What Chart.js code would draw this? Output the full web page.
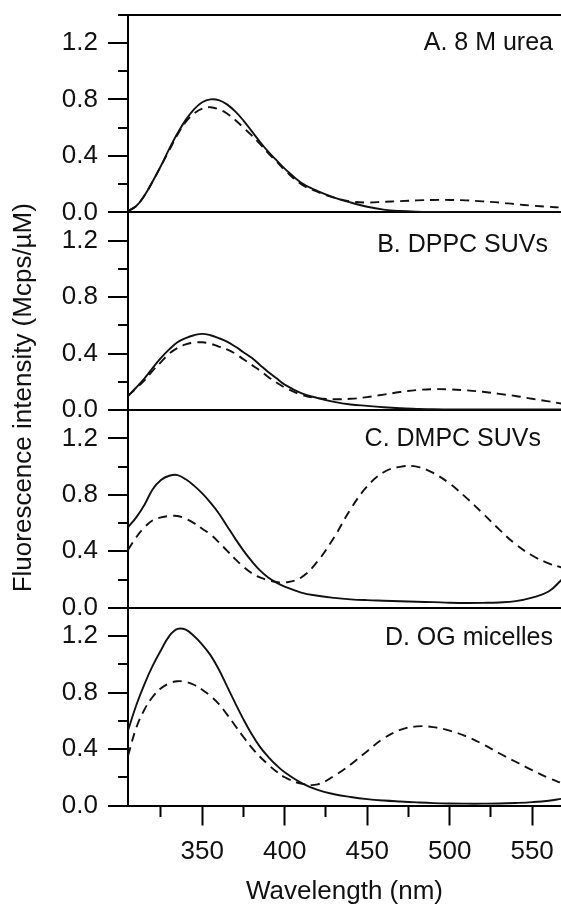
<!DOCTYPE html>
<html>
<head>
<meta charset="utf-8">
<script src="https://cdn.jsdelivr.net/npm/chart.js@4.4.1/dist/chart.umd.min.js"></script>
<style>
html,body{margin:0;padding:0;background:#fff;}
#wrap{width:561px;height:907px;position:relative;}
canvas{display:block;}
</style>
</head>
<body>
<div id="wrap"><canvas id="c" width="561" height="907"></canvas></div>
<script>
// ---- data ----
const wavelengths = [305,310,315,320,325,330,335,340,345,350,355,360,365,370,375,380,385,390,395,400,
                     410,420,430,440,450,460,470,480,490,500,510,520,530,540,550,560,568];

const ureaSolid  = [0.01,0.045,0.12,0.22,0.33,0.45,0.56,0.655,0.73,0.78,0.80,0.795,0.765,0.715,0.65,0.575,0.50,0.43,0.37,0.31,
                    0.21,0.15,0.105,0.07,0.04,0.02,0.01,0.005,0.003,0.002,0.002,0.002,0.002,0.002,0.002,0.002,0.002];
const ureaDashed = [0.01,0.045,0.12,0.22,0.33,0.44,0.55,0.64,0.70,0.735,0.745,0.73,0.70,0.655,0.60,0.545,0.485,0.42,0.36,0.30,
                    0.20,0.145,0.105,0.078,0.07,0.075,0.08,0.085,0.088,0.088,0.085,0.078,0.07,0.058,0.048,0.04,0.034];

const dppcSolid  = [0.10,0.16,0.225,0.30,0.37,0.43,0.48,0.51,0.53,0.54,0.53,0.51,0.485,0.45,0.41,0.37,0.32,0.27,0.225,0.18,
                    0.12,0.085,0.058,0.04,0.03,0.02,0.013,0.009,0.006,0.005,0.004,0.004,0.004,0.004,0.004,0.004,0.004];
const dppcDashed = [0.10,0.155,0.21,0.28,0.34,0.40,0.44,0.465,0.478,0.48,0.47,0.45,0.43,0.40,0.36,0.32,0.28,0.235,0.195,0.16,
                    0.11,0.085,0.077,0.08,0.092,0.11,0.128,0.142,0.148,0.147,0.14,0.13,0.115,0.10,0.08,0.062,0.046];

const dmpcSolid  = [0.57,0.64,0.73,0.84,0.905,0.935,0.94,0.91,0.865,0.81,0.745,0.67,0.58,0.49,0.405,0.33,0.265,0.215,0.178,0.15,
                    0.108,0.085,0.07,0.06,0.054,0.05,0.046,0.043,0.04,0.036,0.034,0.035,0.038,0.047,0.072,0.115,0.2];
const dmpcDashed = [0.41,0.50,0.57,0.62,0.64,0.65,0.65,0.63,0.60,0.56,0.52,0.465,0.405,0.345,0.29,0.245,0.215,0.195,0.183,0.178,
                    0.215,0.33,0.50,0.70,0.86,0.96,0.998,1.0,0.955,0.88,0.78,0.67,0.555,0.45,0.37,0.315,0.285];

const ogSolid    = [0.53,0.71,0.86,0.99,1.10,1.20,1.25,1.245,1.20,1.14,1.065,0.965,0.845,0.725,0.61,0.505,0.415,0.345,0.285,0.235,
                    0.16,0.11,0.08,0.06,0.045,0.035,0.028,0.022,0.017,0.014,0.013,0.013,0.014,0.018,0.024,0.034,0.048];
const ogDashed   = [0.35,0.55,0.68,0.77,0.83,0.865,0.88,0.875,0.855,0.82,0.775,0.72,0.645,0.565,0.485,0.41,0.345,0.29,0.24,0.20,
                    0.155,0.15,0.21,0.29,0.385,0.475,0.535,0.56,0.555,0.53,0.49,0.435,0.37,0.31,0.25,0.195,0.158];

const panelNames  = ['A. 8 M urea','B. DPPC SUVs','C. DMPC SUVs','D. OG micelles'];
const xTickValues = [325,350,375,400,425,450,475,500,525,550];
const xTickLabels = ['','350','','400','','450','','500','','550'];
const yTickValues = [0,0.2,0.4,0.6,0.8,1.0,1.2,1.4];
const yTickLabels = ['0.0','','0.4','','0.8','','1.2',''];
const yTitle = 'Fluorescence intensity (Mcps/\u00b5M)';
const xTitle = 'Wavelength (nm)';

// ---- chart ----
const FONT = '"Liberation Sans", Arial, Helvetica, sans-serif';
const INK = '#111';

function pts(arr){ return wavelengths.map((w,i)=>({x:w,y:arr[i]})); }

function yScale(isTop){
  return {
    type:'linear', position:'left', stack:'panels', stackWeight:1,
    min:0, max:1.4,
    afterBuildTicks: s => { s.ticks = yTickValues.map(v=>({value:v})); },
    afterFit: s => { s.width = 128; s.paddingTop = 0; s.paddingBottom = 0; },
    ticks:{ autoSkip:false, padding:10, color:INK,
            font:{family:FONT,size:26,lineHeight:1},
            callback:(v,i)=>yTickLabels[i] },
    grid:{ drawOnChartArea:true, lineWidth:2,
           color: c => (c.type==='tick' && (c.index===0 || (isTop && c.index===7))) ? '#000' : 'rgba(0,0,0,0)',
           tickLength:20, tickWidth:2, tickColor:'#000',
           tickBorderDash: c => (c.index%2===0 && c.index<7) ? [] : [0,10,30,0] },
    border:{ display:true, color:'#000', width:2 }
  };
}

const series = [
  {axis:'yA', data:ureaSolid, dash:[]}, {axis:'yA', data:ureaDashed, dash:[9,6]},
  {axis:'yB', data:dppcSolid, dash:[]}, {axis:'yB', data:dppcDashed, dash:[9,6]},
  {axis:'yC', data:dmpcSolid, dash:[]}, {axis:'yC', data:dmpcDashed, dash:[9,6]},
  {axis:'yD', data:ogSolid,   dash:[]}, {axis:'yD', data:ogDashed,   dash:[9,6]}
];

const panelText = {
  id:'panelText',
  afterDraw(chart, args, opts){
    const ctx = chart.ctx;
    ctx.save();
    ctx.fillStyle = INK;
    ctx.font = '25px ' + FONT;
    ctx.textAlign = 'right';
    ctx.textBaseline = 'alphabetic';
    opts.panels.forEach((p,i)=>{
      const s = chart.scales[p.scale];
      ctx.fillText(panelNames[i], p.right, s.top + p.baseline);
    });
    ctx.font = '26px ' + FONT;
    ctx.textAlign = 'center';
    ctx.textBaseline = 'middle';
    ctx.translate(opts.titleX, chart.chartArea.top + opts.titleOffset);
    ctx.rotate(-Math.PI/2);
    ctx.fillText(yTitle, 0, 0);
    ctx.restore();
  }
};

new Chart(document.getElementById('c'), {
  type:'line',
  data:{ datasets: series.map(s=>({
    data: pts(s.data), yAxisID: s.axis, borderColor:'#111', borderWidth:1.9,
    borderDash: s.dash, pointRadius:0, fill:false, tension:0.4
  }))},
  options:{
    responsive:false, animation:false, devicePixelRatio:1,
    layout:{ padding:{top:14.7,left:0,right:0,bottom:0} },
    plugins:{
      legend:{display:false}, tooltip:{enabled:false},
      panelText:{
        panels:[
          {scale:'yA', right:553, baseline:35.5},
          {scale:'yB', right:548, baseline:39.5},
          {scale:'yC', right:541, baseline:35.5},
          {scale:'yD', right:553, baseline:37.5}
        ],
        titleX:24, titleOffset:383
      }
    },
    scales:{
      x:{
        type:'linear', position:'bottom', min:305, max:567.5,
        afterBuildTicks: s => { s.ticks = xTickValues.map(v=>({value:v})); },
        afterFit: s => { s.height = 101.5; s.paddingLeft = 0; s.paddingRight = 0; },
        ticks:{ autoSkip:false, maxRotation:0, padding:11, color:INK,
                font:{family:FONT,size:26}, callback:(v,i)=>xTickLabels[i] },
        grid:{ drawOnChartArea:false, tickLength:20, tickWidth:2, tickColor:'#000',
               tickBorderDash: c => xTickLabels[c.index] ? [] : [10,30] },
        border:{ display:true, color:'#000', width:2 },
        title:{ display:true, text:xTitle, color:INK,
                font:{family:FONT,size:26,lineHeight:1}, padding:{top:0,bottom:2} }
      },
      yD: yScale(false),
      yC: yScale(false),
      yB: yScale(false),
      yA: yScale(true)
    }
  },
  plugins:[panelText]
});
</script>
</body>
</html>
